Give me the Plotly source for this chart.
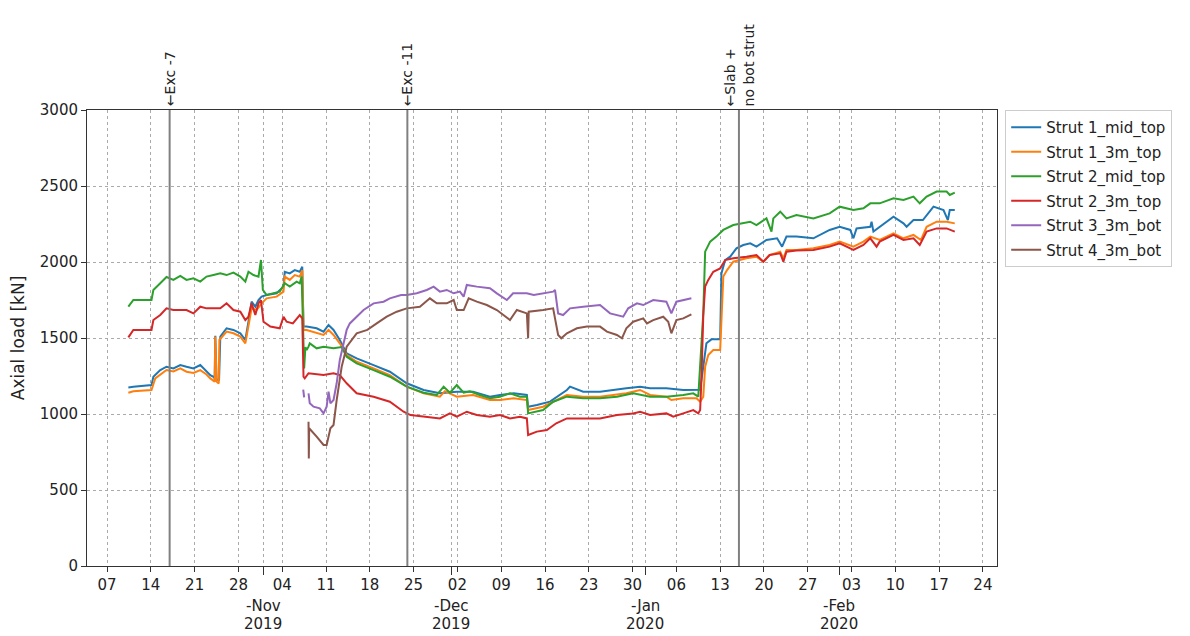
import pandas as pd
import plotly.graph_objects as go

BASE = "2019-10-07"  # day offsets below are counted from this date

s1_mid_days = [3.4, 4.2, 7.1, 7.4, 8.5, 9.5, 10.6, 11.7, 12.7, 13.8, 14.9, 15.9, 16.5, 17.0, 17.2, 17.3, 17.5, 17.9, 18.1,
               19.1, 20.2, 21.3, 22.1, 22.6, 23.1, 23.7, 24.2, 24.7, 25.5, 27.1, 28.2, 28.4, 29.2, 30.0, 30.8, 31.2, 31.4,
               31.9, 33.5, 34.6, 35.4, 36.2, 37.2, 38.3, 39.9, 42.6, 45.2, 47.9, 50.6, 53.2, 55.9, 58.5, 61.2, 62.8, 65.0,
               67.1, 67.3, 68.7, 70.8, 73.5, 74.0, 76.1, 78.8, 83.0, 85.2, 86.8, 89.4, 92.1, 94.2, 94.8, 95.3, 95.8, 96.6,
               98.0, 98.2, 98.8, 99.6, 100.6, 101.7, 102.8, 103.8, 105.4, 107.1, 107.9, 108.6, 110.2, 112.9, 115.5, 117.1,
               118.8, 119.3, 119.8, 122.0, 122.2, 122.5, 123.5, 125.7, 127.3, 127.8, 128.9, 130.4, 132.1, 133.7, 134.4,
               134.7, 135.5]
s1_mid_vals = [1175, 1180, 1190, 1245, 1289, 1311, 1300, 1322, 1311, 1300, 1322, 1278, 1256, 1245, 1234, 1515, 1225, 1225, 1509,
               1564, 1553, 1531, 1487, 1607, 1739, 1706, 1750, 1772, 1783, 1794, 1838, 1936, 1925, 1947, 1936, 1969, 1575,
               1575, 1564, 1542, 1586, 1553, 1487, 1399, 1366, 1322, 1278, 1202, 1158, 1136, 1147, 1147, 1114, 1125, 1136,
               1125, 1048, 1059, 1081, 1158, 1180, 1147, 1147, 1169, 1180, 1169, 1169, 1158, 1158, 1160, 1311, 1465, 1491,
               1491, 1925, 2013, 2035, 2090, 2112, 2123, 2101, 2145, 2156, 2101, 2167, 2167, 2156, 2211, 2232,
               2211, 2156, 2221, 2232, 2265, 2200, 2232, 2298, 2254, 2232, 2276, 2276, 2364, 2342, 2276,
               2342, 2342]

s1_3m_days = [3.4, 4.2, 7.1, 7.7, 9.5, 10.6, 11.7, 12.7, 13.8, 14.9, 15.9, 16.5, 17.2, 17.3, 17.5, 17.85, 17.95, 19.1, 20.2,
              21.3, 22.1, 22.6, 23.1, 23.9, 24.7, 25.5, 27.1, 28.2, 28.4, 29.2, 30.0, 30.8, 31.2, 31.4, 31.9, 34.6, 35.4,
              36.2, 37.2, 38.3, 39.9, 42.6, 45.2, 47.9, 50.6, 53.2, 54.0, 55.9, 58.5, 61.2, 62.8, 65.0, 67.1, 67.3, 69.7,
              73.5, 76.1, 78.8, 83.0, 85.2, 86.8, 89.4, 90.2, 92.1, 94.2, 94.8, 95.3, 95.6, 96.1, 96.9, 98.0, 98.5, 99.1,
              100.1, 102.2, 103.8, 104.9, 105.9, 107.6, 108.1, 108.6, 110.2, 112.9, 115.5, 117.1, 119.3, 120.9, 122.0,
              123.5, 125.7, 127.3, 128.9, 130.1, 131.0, 132.6, 134.2, 135.5]
s1_3m_vals = [1140, 1150, 1158, 1234, 1289, 1280, 1300, 1278, 1270, 1289, 1260, 1234, 1213, 1509, 1213, 1200, 1487, 1542, 1531,
              1509, 1465, 1575, 1695, 1684, 1728, 1761, 1772, 1805, 1904, 1882, 1914, 1904, 1947, 1553, 1553, 1520, 1553,
              1520, 1465, 1388, 1344, 1300, 1256, 1180, 1136, 1114, 1150, 1114, 1125, 1092, 1092, 1103, 1092, 1026, 1048,
              1125, 1114, 1114, 1136, 1158, 1125, 1114, 1092, 1103, 1103, 1081, 1114, 1311, 1388, 1421, 1421, 1904, 1947,
              2002, 2024, 2035, 2002, 2046, 2068, 2024, 2079, 2079, 2090, 2112, 2134, 2101, 2134, 2167,
              2145, 2189, 2156, 2178, 2145, 2232, 2265, 2265, 2254]

s2_mid_days = [3.4, 4.2, 7.1, 7.4, 8.5, 9.5, 10.6, 11.7, 12.7, 13.8, 14.9, 15.9, 17.0, 18.1, 19.1, 20.2, 21.3, 22.1, 22.6,
               23.4, 24.2, 24.6, 24.9, 25.5, 27.6, 28.4, 29.2, 30.3, 30.8, 31.1, 31.4, 31.5, 31.7, 31.9, 32.2, 32.4, 33.5,
               34.6, 36.2, 37.5, 38.3, 39.9, 42.6, 45.2, 47.9, 50.6, 52.7, 53.8, 54.8, 55.9, 57.0, 58.0, 59.6, 61.2, 62.8,
               64.4, 66.0, 67.1, 67.3, 68.7, 69.7, 71.3, 73.5, 76.1, 78.8, 81.5, 84.1, 86.8, 89.4, 92.1, 93.7, 94.5, 94.8,
               95.3, 95.6, 96.4, 97.4, 98.5, 100.1, 101.2, 102.8, 103.8, 105.4, 106.2, 106.5, 107.6, 108.6, 110.2, 112.9,
               115.5, 117.1, 119.3, 120.9, 122.0, 123.5, 125.7, 127.3, 128.9, 129.9, 131.0, 132.6, 134.2, 134.7, 135.5]
s2_mid_vals = [1706, 1750, 1750, 1816, 1860, 1901, 1882, 1908, 1882, 1893, 1871, 1904, 1914, 1925, 1914, 1930, 1904, 1871, 1936,
               1914, 1904, 2013, 1816, 1783, 1805, 1860, 1838, 1871, 1860, 1904, 1465, 1300, 1440, 1421, 1443, 1465, 1432,
               1443, 1432, 1440, 1377, 1333, 1289, 1245, 1180, 1140, 1125, 1180, 1140, 1191, 1140, 1150, 1125, 1103, 1114,
               1136, 1114, 1114, 1004, 1015, 1026, 1081, 1114, 1103, 1103, 1114, 1136, 1114, 1114, 1125, 1136, 1114, 1311,
               1664, 2068, 2134, 2167, 2211, 2243, 2254, 2265, 2243, 2287, 2200, 2287, 2331, 2287, 2309, 2287,
               2320, 2364, 2342, 2353, 2386, 2386, 2419, 2408, 2430, 2386, 2430, 2463, 2463, 2441, 2456]

s2_3m_days = [3.4, 4.2, 7.1, 7.4, 8.5, 9.5, 10.6, 12.7, 13.8, 14.9, 15.9, 17.0, 18.1, 19.1, 20.2, 21.3, 22.1, 22.6, 23.1,
              23.7, 24.2, 24.6, 25.0, 26.1, 27.6, 28.2, 28.7, 29.7, 30.8, 31.2, 31.4, 31.6, 32.2, 34.6, 36.2, 37.2, 38.3,
              39.9, 42.6, 45.2, 47.4, 48.5, 50.6, 53.2, 54.8, 55.9, 57.5, 59.1, 61.2, 62.8, 64.4, 66.0, 67.1, 67.3, 68.7,
              70.3, 71.8, 73.5, 76.1, 78.8, 81.5, 84.1, 85.2, 86.8, 89.4, 90.5, 92.1, 93.7, 94.5, 94.8, 95.0, 95.3, 95.6,
              96.1, 96.9, 98.0, 98.8, 100.1, 102.2, 103.8, 104.9, 105.9, 107.6, 108.1, 108.6, 110.2, 112.9, 115.5, 117.1,
              119.3, 120.9, 122.0, 123.0, 123.5, 125.7, 127.3, 128.9, 129.9, 131.0, 132.6, 134.2, 135.5]
s2_3m_vals = [1504, 1553, 1553, 1618, 1651, 1695, 1684, 1684, 1662, 1706, 1695, 1695, 1695, 1728, 1684, 1673, 1618, 1640, 1728,
              1651, 1728, 1750, 1607, 1575, 1564, 1640, 1607, 1596, 1651, 1629, 1245, 1234, 1268, 1256, 1268, 1256, 1202,
              1136, 1114, 1081, 1015, 993, 982, 971, 1004, 982, 1015, 993, 982, 993, 971, 982, 971, 862, 884,
              895, 939, 971, 971, 971, 993, 1004, 1015, 993, 1004, 982, 1004, 1026, 1004, 1026, 1223, 1650, 1838,
              1882, 1936, 1958, 2013, 2024, 2035, 2046, 2002, 2046, 2057, 2002, 2068, 2075, 2079, 2101, 2123,
              2079, 2112, 2156, 2101, 2134, 2178, 2145, 2156, 2112, 2200, 2221, 2221, 2200]

s3_bot_days = [31.35, 31.5, 31.8, 32.2, 32.4, 33.0, 34.0, 34.6, 35.1, 35.4, 35.7, 36.2, 36.7, 37.2, 37.8, 38.3, 38.8, 39.9,
               41.0, 42.6, 44.2, 45.2, 47.0, 47.9, 49.5, 51.1, 52.2, 53.2, 54.3, 55.4, 56.4, 57.0, 57.5, 59.1, 61.2, 62.3,
               63.9, 64.9, 67.1, 68.2, 69.7, 71.3, 71.6, 72.1, 72.9, 74.0, 76.1, 78.8, 80.4, 82.5, 83.3, 84.7, 85.7, 87.3,
               89.4, 90.2, 91.0, 92.1, 93.4]
s3_bot_vals = [1160, 1110, None, 1136, 1070, 1048, 1037, 1004, 1048, 1147, 1070, 1092, 1202, 1355, 1465, 1553, 1596, 1640,
               1684, 1728, 1739, 1761, 1783, 1783, 1794, 1816, 1838, 1805, 1816, 1794, 1805, 1772, 1849, 1838, 1827, 1794,
               1750, 1794, 1794, 1783, 1794, 1805, 1816, 1662, 1651, 1695, 1706, 1717, 1662, 1640, 1695, 1728, 1717, 1750,
               1739, 1662, 1739, 1750, 1761]

s4_bot_days = [32.2, 32.25, 32.3, 33.5, 34.6, 35.1, 35.7, 36.2, 36.7, 37.5, 38.3, 39.9, 41.6, 43.1, 44.7, 46.3, 47.9, 50.0,
               51.6, 52.7, 54.3, 55.4, 55.9, 57.0, 57.8, 59.1, 60.7, 62.3, 64.4, 65.5, 67.1, 67.3, 67.4, 69.7, 71.3, 72.1,
               72.6, 73.5, 75.1, 76.7, 78.8, 79.9, 81.5, 82.3, 83.0, 84.1, 85.7, 86.3, 87.3, 88.9, 89.7, 90.2, 91.0, 92.1,
               93.4]
s4_bot_vals = [949, 708, 906, 851, 796, 796, 906, 928, 1092, 1311, 1443, 1531, 1553, 1596, 1640, 1673, 1695, 1706,
               1761, 1728, 1728, 1750, 1684, 1684, 1761, 1739, 1717, 1684, 1618, 1684, 1662, 1498, 1673, 1684, 1695, 1520,
               1498, 1531, 1564, 1575, 1575, 1542, 1520, 1498, 1564, 1607, 1629, 1596, 1618, 1640, 1607, 1531, 1618, 1629,
               1656]

series_names = ["Strut 1_mid_top", "Strut 1_3m_top", "Strut 2_mid_top", "Strut 2_3m_top", "Strut 3_3m_bot", "Strut 4_3m_bot"]
series_days = [s1_mid_days, s1_3m_days, s2_mid_days, s2_3m_days, s3_bot_days, s4_bot_days]
series_vals = [s1_mid_vals, s1_3m_vals, s2_mid_vals, s2_3m_vals, s3_bot_vals, s4_bot_vals]
colors = ["#1f77b4", "#ff7f0e", "#2ca02c", "#d62728", "#9467bd", "#8c564b"]

event_dates = ["2019-10-17", "2019-11-24", "2020-01-16"]
event_labels = ["←Exc -7", "←Exc -11", "←Slab +<br>no bot strut"]

week_ticks = pd.date_range("2019-10-07", "2020-02-24", freq="7D")
month_starts = ["2019-11-01", "2019-12-01", "2020-01-01", "2020-02-01"]
month_names = ["-Nov", "-Dec", "-Jan", "-Feb"]
month_years = ["2019", "2019", "2020", "2020"]

FONT = "DejaVu Sans"
base = pd.Timestamp(BASE)

fig = go.Figure()
for name, d, v, c in zip(series_names, series_days, series_vals, colors):
    x = [base + pd.Timedelta(days=t) for t in d]
    fig.add_trace(go.Scatter(x=x, y=v, mode="lines", name=name, legendgroup=name, connectgaps=False,
                             line=dict(color=c, width=2)))

for ed, lab in zip(event_dates, event_labels):
    fig.add_shape(type="line", xref="x", yref="paper", x0=ed, x1=ed, y0=0, y1=1,
                  line=dict(color="#808080", width=2))
    fig.add_annotation(x=ed, xref="x", y=1, yref="paper", text=lab, textangle=-90,
                       showarrow=False, xanchor="center", yanchor="bottom", align="left",
                       yshift=2, font=dict(family=FONT, size=14, color="#222"))

for ms, mn, my in zip(month_starts, month_names, month_years):
    fig.add_annotation(x=ms, xref="x", y=-0.088, yref="paper", text=mn, showarrow=False,
                       xanchor="center", yanchor="middle", font=dict(family=FONT, size=15, color="#222"))
    fig.add_annotation(x=ms, xref="x", y=-0.128, yref="paper", text=my, showarrow=False,
                       xanchor="center", yanchor="middle", font=dict(family=FONT, size=15, color="#222"))

fig.update_layout(
    width=1182, height=628,
    template="none",
    paper_bgcolor="white", plot_bgcolor="white",
    margin=dict(l=79, r=193, t=102, b=70),
    font=dict(family=FONT, size=15, color="#222"),
    showlegend=True,
    legend=dict(x=1.009, y=1.0, xanchor="left", yanchor="top", tracegroupgap=2,
                bordercolor="#cccccc", borderwidth=1, bgcolor="white",
                font=dict(family=FONT, size=15, color="#222")),
)

fig.update_xaxes(
    type="date",
    range=["2019-10-03 19:00", "2020-02-26 06:00"],
    tickvals=list(week_ticks), ticktext=[t.strftime("%d") for t in week_ticks],
    ticks="outside", ticklen=5, tickcolor="#333",
    showgrid=True, gridcolor="#aaaaaa", griddash="dot", gridwidth=1,
    minor=dict(tickvals=month_starts, showgrid=True, gridcolor="#aaaaaa", griddash="dot",
               ticks="outside", ticklen=8, tickcolor="#333"),
    showline=True, linecolor="#333", linewidth=1, mirror=True,
    zeroline=False, tickfont=dict(family=FONT, size=15, color="#222"),
)
fig.update_yaxes(
    range=[0, 3000], dtick=500, tick0=0,
    ticks="outside", ticklen=5, tickcolor="#333",
    showgrid=True, gridcolor="#aaaaaa", griddash="dot", gridwidth=1,
    showline=True, linecolor="#333", linewidth=1, mirror=True,
    zeroline=False, tickfont=dict(family=FONT, size=15, color="#222"),
    title=dict(text="Axial load [kN]", font=dict(family=FONT, size=17, color="#222"), standoff=10),
)

fig.write_html("out.html")
